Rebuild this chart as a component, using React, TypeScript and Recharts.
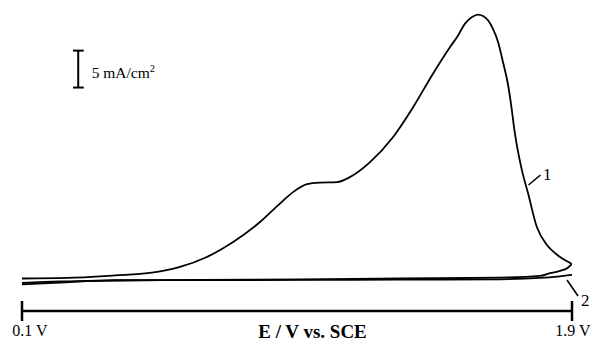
import React from 'react';
import { LineChart, Line, XAxis, YAxis, ReferenceLine, Customized } from 'recharts';

// Potential (V vs. SCE) and current density (mA/cm^2)
const scan1ForwardV = [0.1, 0.247, 0.404, 0.519, 0.617, 0.705, 0.791, 0.879, 0.944, 0.987, 1.033, 1.075, 1.131, 1.173, 1.239, 1.314, 1.38, 1.445, 1.501, 1.524, 1.55, 1.573, 1.592, 1.609, 1.625, 1.641, 1.658, 1.674, 1.691, 1.7, 1.713, 1.736, 1.756, 1.785, 1.818, 1.848, 1.867, 1.9];
const scan1ForwardI = [0.2, 0.27, 0.61, 0.95, 1.76, 3.11, 5.14, 7.84, 10.34, 11.89, 12.97, 13.18, 13.24, 13.92, 15.95, 19.32, 23.38, 27.91, 31.53, 32.88, 34.69, 35.58, 35.91, 35.72, 35.14, 34.01, 32.2, 29.5, 26.35, 23.92, 19.86, 14.86, 11.76, 7.16, 4.73, 3.51, 2.93, 2.16];

const scan1ReverseV = [0.1, 0.224, 0.404, 0.683, 1.01, 1.337, 1.664, 1.795, 1.828, 1.861, 1.884, 1.9];
const scan1ReverseI = [-0.41, -0.2, -0.07, 0, 0.09, 0.2, 0.31, 0.54, 0.91, 1.22, 1.58, 2.16];

const scan2V = [0.1, 0.224, 0.404, 0.683, 1.01, 1.337, 1.664, 1.795, 1.851, 1.9];
const scan2I = [-0.61, -0.34, -0.04, -0.03, 0, 0.04, 0.09, 0.27, 0.45, 0.68];

const xTicks = [0.1, 1.9];
const xDomain = [0.1, 1.9];
const yDomain = [-4.2, 36.4];
const scaleBarV = 0.284;
const scaleBarFrom = 26.04;
const scaleBarSize = 5;

const zip = (vs: number[], is: number[]) => vs.map((v, k) => ({ v, i: is[k] }));
const scan1Forward = zip(scan1ForwardV, scan1ForwardI);
const scan1Reverse = zip(scan1ReverseV, scan1ReverseI);
const scan2 = zip(scan2V, scan2I);

const SERIF = '"Liberation Serif", "Times New Roman", Times, serif';

const AxisTick = (props: any) => {
  const { x, y, payload } = props;
  const first = payload.value === xTicks[0];
  return (
    <g>
      <line x1={x} x2={x} y1={y - 10} y2={y + 10} stroke="#000" strokeWidth={2.5} />
      <text x={x + (first ? 8 : 1)} y={y + 25} textAnchor="middle" fontSize={16} fontFamily={SERIF} fill="#000">
        {`${payload.value} V`}
      </text>
    </g>
  );
};

const Annotations = () => (
  <g fontFamily={SERIF} fill="#000">
    <text x={91.7} y={78.3} fontSize={15.5}>
      5 mA/cm<tspan dy={-6} fontSize={10.5}>2</tspan>
    </text>
    <line x1={528.5} y1={185} x2={540.5} y2={175} stroke="#000" strokeWidth={1.6} />
    <text x={543} y={180} fontSize={17}>1</text>
    <line x1={567} y1={280} x2={578} y2={296} stroke="#000" strokeWidth={1.6} />
    <text x={581} y={306} fontSize={17}>2</text>
    <text x={312.5} y={337.5} textAnchor="middle" fontSize={19} fontWeight="bold">E / V vs. SCE</text>
  </g>
);

export default function App() {
  return (
    <div style={{ position: 'absolute', left: 0, top: 0, width: 592, height: 341 }}>
      <LineChart width={592} height={341} margin={{ top: 11, right: 20, bottom: 0, left: 22 }}>
        <XAxis
          dataKey="v"
          type="number"
          domain={xDomain}
          ticks={xTicks}
          allowDataOverflow
          height={30}
          axisLine={{ stroke: '#000', strokeWidth: 2.5 }}
          tickLine={false}
          tickSize={0}
          tickMargin={0}
          tick={<AxisTick />}
          interval={0}
        />
        <YAxis type="number" domain={yDomain} hide allowDataOverflow />
        <Line data={scan2} dataKey="i" type="monotone" stroke="#000" strokeWidth={1.8} dot={false} isAnimationActive={false} />
        <Line data={scan1Reverse} dataKey="i" type="monotone" stroke="#000" strokeWidth={1.8} dot={false} isAnimationActive={false} />
        <Line data={scan1Forward} dataKey="i" type="monotone" stroke="#000" strokeWidth={1.8} dot={false} isAnimationActive={false} />
        <ReferenceLine segment={[{ x: scaleBarV, y: scaleBarFrom }, { x: scaleBarV, y: scaleBarFrom + scaleBarSize }]} stroke="#000" strokeWidth={2} />
        <ReferenceLine segment={[{ x: scaleBarV - 0.017, y: scaleBarFrom }, { x: scaleBarV + 0.018, y: scaleBarFrom }]} stroke="#000" strokeWidth={2} />
        <ReferenceLine segment={[{ x: scaleBarV - 0.017, y: scaleBarFrom + scaleBarSize }, { x: scaleBarV + 0.018, y: scaleBarFrom + scaleBarSize }]} stroke="#000" strokeWidth={2} />
        <Customized component={Annotations} />
      </LineChart>
    </div>
  );
}
